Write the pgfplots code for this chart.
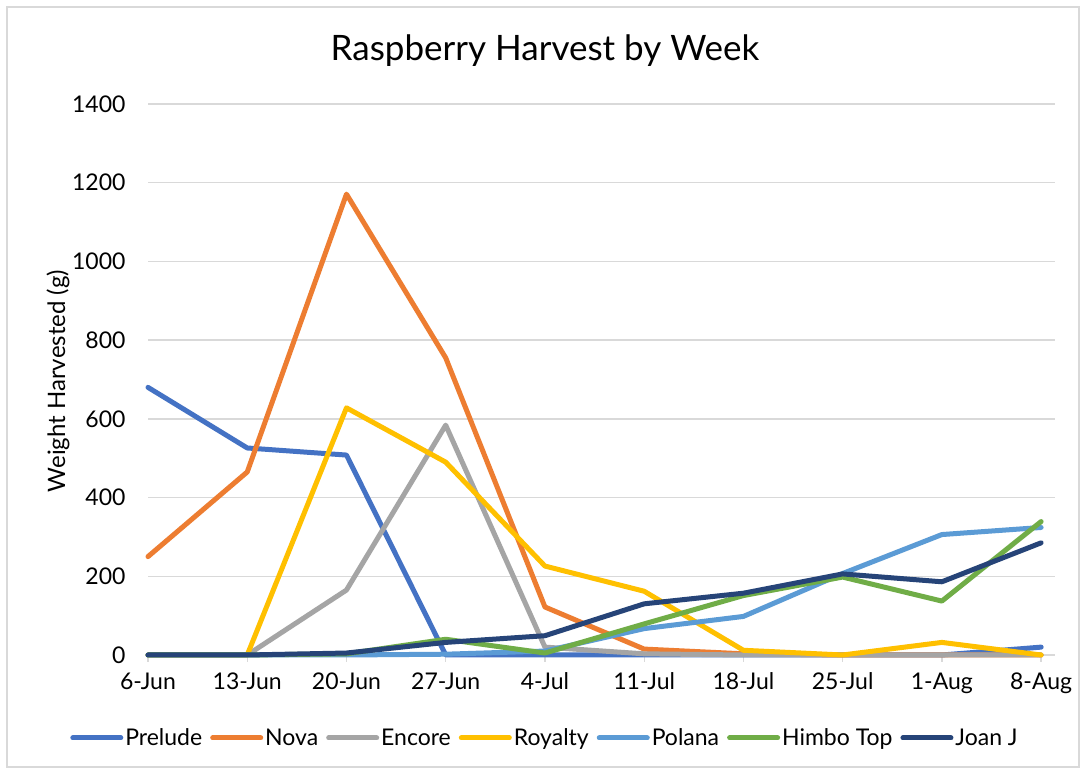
\documentclass[border=0pt]{standalone}
\usepackage{pgfplots}
\pgfplotsset{compat=1.18}
\usepackage{fontspec}
\setmainfont{Lato}
\definecolor{cPrelude}{HTML}{4472C4}
\definecolor{cNova}{HTML}{ED7D31}
\definecolor{cEncore}{HTML}{A5A5A5}
\definecolor{cRoyalty}{HTML}{FFC000}
\definecolor{cPolana}{HTML}{5B9BD5}
\definecolor{cHimbo}{HTML}{70AD47}
\definecolor{cJoan}{HTML}{264478}
\definecolor{cGrid}{HTML}{D9D9D9}
\begin{document}
\begin{tikzpicture}[x=1pt,y=1pt]
\fill[white] (0,0) rectangle (1085,773);
\draw[cGrid, line width=1.5pt] (7,6) rectangle (1079,766);
\node[font=\fontsize{35}{40}\selectfont] at (545,722) {Raspberry Harvest by Week};
\node[rotate=90, font=\fontsize{24}{28}\selectfont] at (58,392) {Weight Harvested (g)};
\begin{axis}[
  at={(148pt,118pt)}, anchor=south west,
  scale only axis, width=907pt, height=551pt,
  xmin=0, xmax=9.14, ymin=0, ymax=1400,
  xtick={0,...,9},
  xticklabels={6-Jun,13-Jun,20-Jun,27-Jun,4-Jul,11-Jul,18-Jul,25-Jul,1-Aug,8-Aug},
  ytick={0,200,...,1400},
  ymajorgrids, grid style={draw=cGrid, line width=1.3pt},
  axis x line*=bottom, axis y line*=left,
  y axis line style={draw=none},
  x axis line style={draw=cGrid, line width=1.3pt, -},
  xtick style={draw=cGrid, line width=1.3pt},
  ytick style={draw=none},
  tick align=outside, major tick length=7pt,
  tick label style={font=\fontsize{23}{26}\selectfont},
  yticklabel style={xshift=-12pt},
  xticklabel style={yshift=-7pt},
  /pgf/number format/assume math mode=true,
  /pgf/number format/1000 sep={},
  every axis plot/.append style={line width=5pt, line cap=round, line join=round},
  legend columns=7,
  legend style={at={(0.4377,-0.1506)}, anchor=center, draw=none, fill=none,
    font=\fontsize{23}{26}\selectfont,
    /tikz/every even column/.append style={column sep=6pt}},
  legend image code/.code={\draw[#1, line width=5pt, line cap=round] (0pt,0pt) -- (48pt,0pt);},
  clip=false,
]
\addplot[cPrelude] coordinates {(0,680) (1,526) (2,508) (3,0) (4,0) (5,0) (6,0) (7,0) (8,0) (9,20)};
\addlegendentry{Prelude}
\addplot[cNova] coordinates {(0,250) (1,465) (2,1171) (3,755) (4,122) (5,15) (6,3) (7,0) (8,0) (9,0)};
\addlegendentry{Nova}
\addplot[cEncore] coordinates {(0,0) (1,0) (2,165) (3,584) (4,20) (5,3) (6,0) (7,0) (8,0) (9,0)};
\addlegendentry{Encore}
\addplot[cRoyalty] coordinates {(0,0) (1,0) (2,628) (3,490) (4,226) (5,162) (6,12) (7,0) (8,32) (9,0)};
\addlegendentry{Royalty}
\addplot[cPolana] coordinates {(0,0) (1,0) (2,0) (3,2) (4,10) (5,67) (6,98) (7,207) (8,306) (9,324)};
\addlegendentry{Polana}
\addplot[cHimbo] coordinates {(0,0) (1,0) (2,3) (3,40) (4,5) (5,79) (6,151) (7,198) (8,137) (9,339)};
\addlegendentry{Himbo Top}
\addplot[cJoan] coordinates {(0,0) (1,0) (2,5) (3,32) (4,49) (5,130) (6,157) (7,206) (8,186) (9,285)};
\addlegendentry{Joan J}
\end{axis}
\end{tikzpicture}
\end{document}
